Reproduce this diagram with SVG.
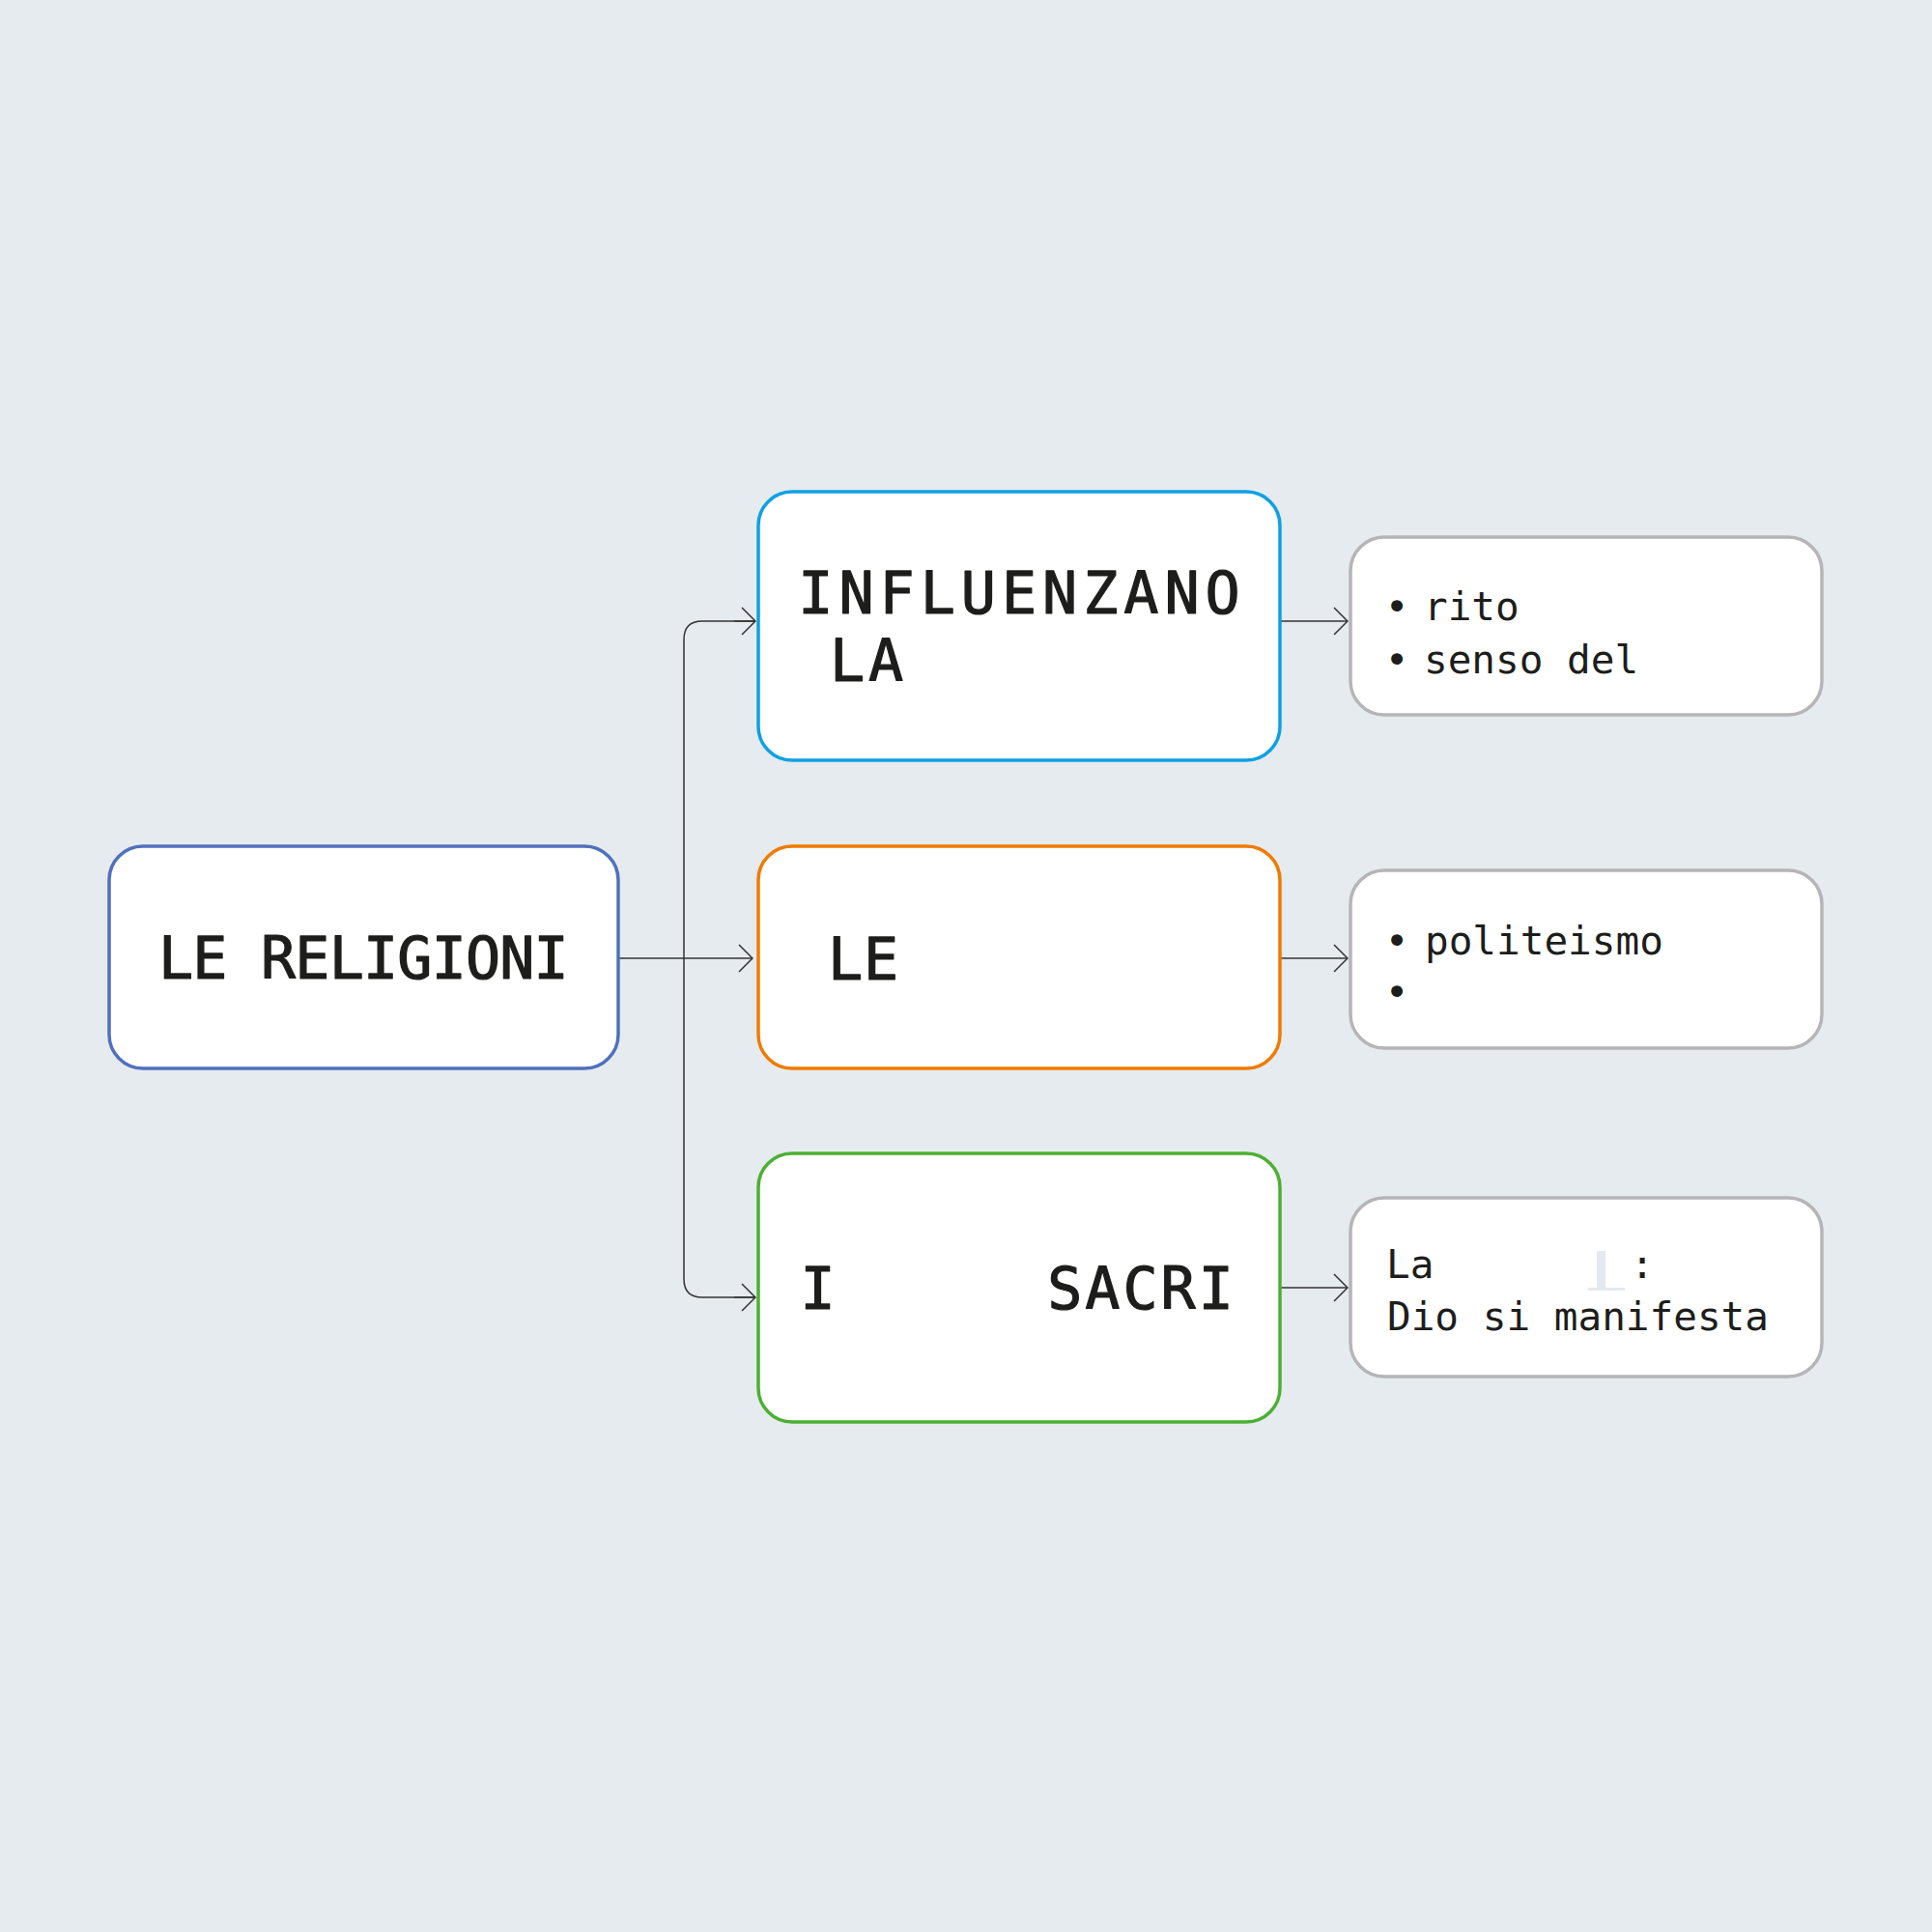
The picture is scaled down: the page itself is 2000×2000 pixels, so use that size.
<svg xmlns="http://www.w3.org/2000/svg" width="2000" height="2000" viewBox="0 0 2000 2000">
  <style>
    .box { fill: #ffffff; stroke-width: 3.5; }
    .main { font-family: "DejaVu Sans Mono", "Liberation Mono", monospace; font-size: 60px; fill: #1d1d1b; stroke: #1d1d1b; stroke-width: 1.2; stroke-linejoin: round; }
    .sub { font-family: "DejaVu Sans Mono", "Liberation Mono", monospace; font-size: 41px; fill: #1d1d1b; }
    .conn { fill: none; stroke: #333333; stroke-width: 1.5; }
  </style>
  <defs>
    <marker id="arr" viewBox="0 0 16 30" refX="15" refY="15" markerWidth="16" markerHeight="30" markerUnits="userSpaceOnUse" orient="auto">
      <path d="M1,1 L15,15 L1,29" fill="none" stroke="#333333" stroke-width="1.5"/>
    </marker>
  </defs>
  <rect x="0" y="0" width="2000" height="2000" fill="#e6ebef"/>

  <g id="connectors">
    <path class="conn" d="M641,992 L779,992" marker-end="url(#arr)"/>
    <path class="conn" d="M782,643 L727,643 Q708,643 708,662 L708,1324 Q708,1343 727,1343 L782,1343" />
    <path class="conn" d="M760,643 L782,643" marker-end="url(#arr)"/>
    <path class="conn" d="M760,1343 L782,1343" marker-end="url(#arr)"/>
    <path class="conn" d="M1325,643 L1395,643" marker-end="url(#arr)"/>
    <path class="conn" d="M1325,992 L1395,992" marker-end="url(#arr)"/>
    <path class="conn" d="M1325,1333 L1395,1333" marker-end="url(#arr)"/>
  </g>

  <g id="node-religioni">
    <rect class="box" x="113" y="876" width="527" height="230" rx="35" stroke="#5170bd"/>
    <text class="main" x="376" y="1013" text-anchor="middle" letter-spacing="-0.8">LE RELIGIONI</text>
  </g>

  <g id="node-influenzano">
    <rect class="box" x="785" y="509" width="540" height="278" rx="35" stroke="#0ea1e2"/>
    <text class="main" x="1058" y="635" text-anchor="middle" letter-spacing="6">INFLUENZANO</text>
    <text class="main" x="859" y="705" letter-spacing="4">LA</text>
  </g>

  <g id="node-le">
    <rect class="box" x="785" y="876" width="540" height="230" rx="35" stroke="#ef7b00"/>
    <text class="main" x="857" y="1014" letter-spacing="1">LE</text>
  </g>

  <g id="node-sacri">
    <rect class="box" x="785" y="1194" width="540" height="278" rx="35" stroke="#4cb033"/>
    <text class="main" x="846.5" y="1355" text-anchor="middle">I</text>
    <text class="main" x="1182" y="1355" text-anchor="middle" letter-spacing="3">SACRI</text>
  </g>

  <g id="node-rito">
    <rect class="box" x="1398" y="556" width="488" height="184" rx="35" stroke="#b5b5b7"/>
    <text class="sub" x="1446" y="642" text-anchor="middle">•</text>
    <text class="sub" x="1474" y="642">rito</text>
    <text class="sub" x="1446" y="697" text-anchor="middle">•</text>
    <text class="sub" x="1474" y="697">senso del</text>
  </g>

  <g id="node-politeismo">
    <rect class="box" x="1398" y="901" width="488" height="184" rx="35" stroke="#b5b5b7"/>
    <text class="sub" x="1446" y="988" text-anchor="middle">•</text>
    <text class="sub" x="1475" y="988">politeismo</text>
    <text class="sub" x="1446" y="1041" text-anchor="middle">•</text>
  </g>

  <g id="node-manifesta">
    <rect class="box" x="1398" y="1240" width="488" height="185" rx="35" stroke="#b5b5b7"/>
    <text class="sub" x="1435" y="1323">La</text>
    <rect x="1653" y="1295" width="9" height="39" fill="#e4e9ed"/>
    <rect x="1644" y="1333" width="38" height="3" fill="#e4e9ed"/>
    <text class="sub" x="1700" y="1323" text-anchor="middle">:</text>
    <text class="sub" x="1436" y="1377">Dio si manifesta</text>
  </g>
</svg>
